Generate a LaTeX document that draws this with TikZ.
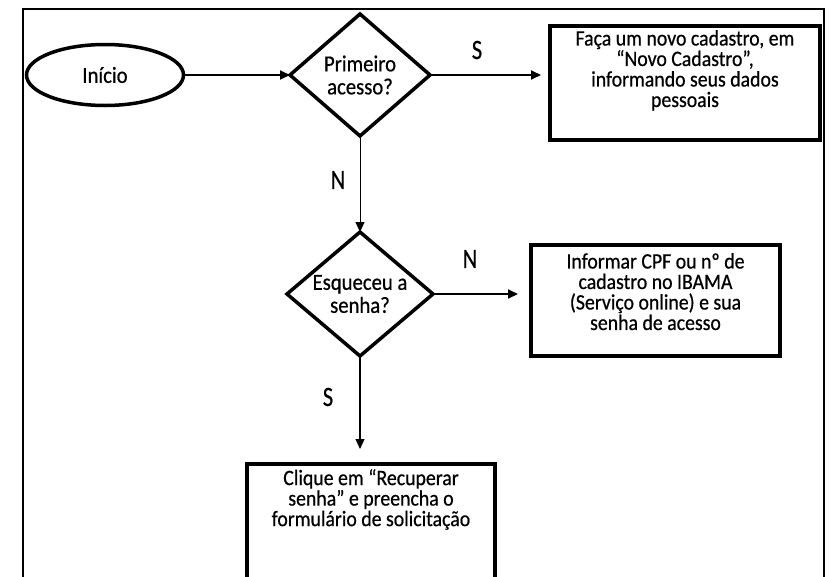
\documentclass[tikz,border=0pt]{standalone}
\usepackage{fontspec}
\setmainfont{Carlito}[FakeStretch=0.9, FakeBold=0.6]
\newfontfamily\rotulofont{Carlito}[FakeStretch=0.8, FakeBold=0.6]
\usetikzlibrary{positioning,shapes.geometric,arrows.meta}

\begin{document}
\begin{tikzpicture}[
	x=1pt, y=-1pt,
	inicio/.style={
		draw, ellipse, line width=3.5pt, inner sep=0pt, outer sep=0pt,
		minimum width=157pt, minimum height=61pt,
		font=\fontsize{23}{23}\selectfont
	},
	decisao/.style={
		draw, diamond, aspect=1.2, line width=3.5pt, align=center,
		inner sep=0pt, outer sep=0pt,
		font=\fontsize{23}{23}\selectfont
	},
	caixa/.style={
		draw, rectangle, line width=4.5pt, inner sep=0pt, outer sep=0pt
	},
	texto/.style={
		align=center, inner sep=0pt,
		font=\fontsize{22}{20.5}\selectfont
	},
	rotulo/.style={inner sep=0pt, font=\rotulofont\fontsize{28}{28}\selectfont},
	seta/.style={-{Triangle[length=10pt, width=9pt]}, line width=1.8pt}
	]
	
	\clip (0,0) rectangle (829,576);
	
	%==================== moldura ====================
	\draw[line width=2pt] (23,9) rectangle (824,620);
	
	%==================== início e decisões ====================
	\node[inicio] (inicio) at (105,75) {Início};
	
	\node[decisao, minimum width=140pt, minimum height=122pt]
	(primeiro) at (360,75) {Primeiro\\acesso?};
	
	\node[decisao, minimum width=146pt, minimum height=124pt]
	(esqueceu) at (360,294) {Esqueceu a\\senha?};
	
	%==================== caixas de ação ====================
	\node[caixa, minimum width=270pt, minimum height=114pt]
	(cadastro) at (685,83) {};
	\node[texto, below=4pt of cadastro.north] (txtcadastro) {
		Faça um novo cadastro, em\\
		“Novo Cadastro”,\\
		informando seus dados\\
		pessoais
	};
	
	\node[caixa, line width=4pt, minimum width=249pt, minimum height=111pt]
	(acesso) at (655.5,300.5) {};
	\node[texto, below=8pt of acesso.north] (txtacesso) {
		Informar CPF ou nº de\\
		cadastro no IBAMA\\
		(Serviço online) e sua\\
		senha de acesso
	};
	
	\node[caixa, line width=4pt, minimum width=248pt, minimum height=150pt]
	(recuperar) at (371,539) {};
	\node[texto, below=5pt of recuperar.north] (txtrecuperar) {
		Clique em “Recuperar\\
		senha” e preencha o\\
		formulário de solicitação
	};
	
	%==================== rótulos S / N ====================
	\node[rotulo] (sim1) at (477,50) {S};
	\node[rotulo] (nao1) at (338,180) {N};
	\node[rotulo] (nao2) at (470,259) {N};
	\node[rotulo] (sim2) at (328,397) {S};
	
	%==================== conexões ====================
	\draw[seta] (inicio.east) -- (primeiro.west);
	\draw[seta, shorten >=9pt] (primeiro.east) -- (primeiro.east -| cadastro.west);
	\draw[seta, line width=1pt] (primeiro.south) -- (esqueceu.north);
	\draw[seta, shorten >=13pt] (esqueceu.east) -- (esqueceu.east -| acesso.west);
	\draw[seta, line width=1.2pt, shorten >=15pt]
	(esqueceu.south) -- (esqueceu.south |- recuperar.north);
	
\end{tikzpicture}
\end{document}
